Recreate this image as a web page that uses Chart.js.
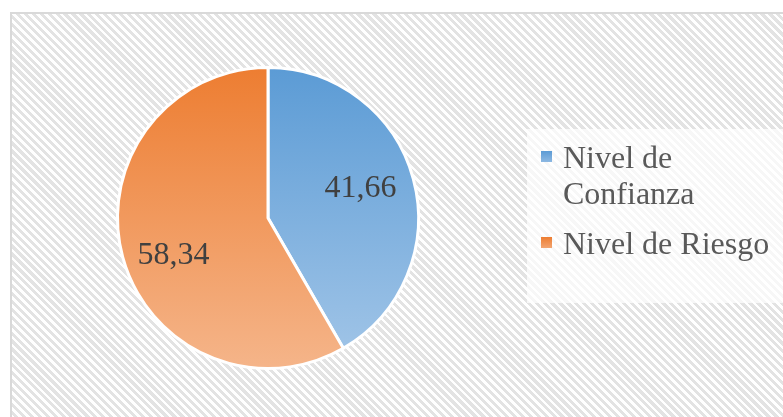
<!DOCTYPE html>
<html>
<head>
<meta charset="utf-8">
<script src="https://cdn.jsdelivr.net/npm/chart.js@4.4.0/dist/chart.umd.min.js"></script>
<style>
  html, body { margin: 0; padding: 0; background: #fff; }
  .frame {
    position: absolute; left: 10px; top: 12px; width: 790px; height: 420px;
    border-left: 2px solid #d9d9d9; border-top: 2px solid #d9d9d9;
    background: repeating-linear-gradient(45deg, #ffffff 0px, #ffffff 2.6px, #e3e3e3 2.6px, #e3e3e3 5.6px);
  }
  #wrap { position: absolute; left: 0; top: 0; width: 783px; height: 417px; }
  .legend {
    position: absolute; left: 527px; top: 129px; width: 256px; height: 174px;
    background: rgba(255,255,255,0.72);
    font-family: "Liberation Serif", "Times New Roman", serif; font-size: 32px; color: #595959;
  }
  .item { position: absolute; left: 36px; line-height: 36px; white-space: nowrap; }
  .item .box { position: absolute; left: -22px; top: 12px; width: 11px; height: 11px; }
</style>
</head>
<body>
<div class="frame"></div>
<div id="wrap"><canvas id="Pie-Chart" width="783" height="417"></canvas></div>
<div class="legend">
  <div class="item" style="top:10px"><span class="box" style="background:linear-gradient(#5b9bd5,#8db8e2)"></span>Nivel de<br>Confianza</div>
  <div class="item" style="top:96px"><span class="box" style="background:linear-gradient(#ed7d31,#f2a572)"></span>Nivel de Riesgo</div>
</div>
<script>
// Data
const labels = ["Nivel de Confianza", "Nivel de Riesgo"];
const values = [41.66, 58.34];
const valueLabels = ["41,66", "58,34"];

const topColors = ["#5b9bd5", "#ed7d31"];
const bottomColors = ["#a3c6e8", "#f5b58a"];

function sliceGradient(ctx) {
  const area = ctx.chart.chartArea;
  if (!area) return topColors[ctx.dataIndex];
  const g = ctx.chart.ctx.createLinearGradient(0, area.top, 0, area.bottom);
  g.addColorStop(0, topColors[ctx.dataIndex]);
  g.addColorStop(1, bottomColors[ctx.dataIndex]);
  return g;
}

// value labels inside slices
const sliceLabels = {
  id: "sliceLabels",
  afterDatasetsDraw(chart) {
    const c = chart.ctx;
    const meta = chart.getDatasetMeta(0);
    c.save();
    c.font = '32px "Liberation Serif", "Times New Roman", serif';
    c.fillStyle = "#404040";
    c.textAlign = "center";
    c.textBaseline = "middle";
    meta.data.forEach((arc, i) => {
      const mid = (arc.startAngle + arc.endAngle) / 2 - 0.08;
      const r = arc.outerRadius * 0.66;
      c.fillText(valueLabels[i], arc.x + Math.cos(mid) * r - 1, arc.y + Math.sin(mid) * r + 4);
    });
    c.restore();
  }
};

const config = {
  type: "pie",
  data: {
    labels: labels,
    datasets: [{
      data: values,
      backgroundColor: sliceGradient,
      borderColor: "#ffffff",
      borderWidth: 3,
    }],
  },
  options: {
    responsive: false,
    animation: false,
    layout: { padding: { left: 116, right: 363, top: 66, bottom: 47 } },
    plugins: {
      legend: { display: false },
      tooltip: { enabled: false },
    },
  },
  plugins: [sliceLabels],
};

const myChart = new Chart(document.getElementById("Pie-Chart"), config);
</script>
</body>
</html>
